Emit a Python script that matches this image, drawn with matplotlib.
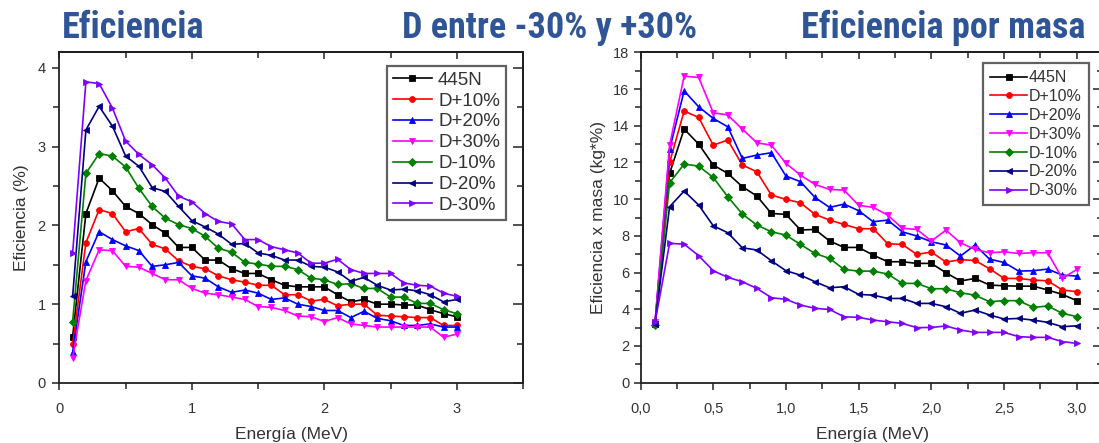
import matplotlib
matplotlib.use("Agg")
import matplotlib.pyplot as plt
from matplotlib import font_manager
from matplotlib.ticker import MultipleLocator, FixedLocator, FuncFormatter

# ---------------- data ----------------
energy = [0.1, 0.2, 0.3, 0.4, 0.5, 0.6, 0.7, 0.8, 0.9, 1.0,
          1.1, 1.2, 1.3, 1.4, 1.5, 1.6, 1.7, 1.8, 1.9, 2.0,
          2.1, 2.2, 2.3, 2.4, 2.5, 2.6, 2.7, 2.8, 2.9, 3.0]

series_labels = ["445N", "D+10%", "D+20%", "D+30%", "D-10%", "D-20%", "D-30%"]

eff_445N = [0.59, 2.15, 2.60, 2.44, 2.24, 2.15, 2.01, 1.90, 1.72, 1.72, 1.56, 1.56, 1.45, 1.39, 1.39,
            1.31, 1.24, 1.22, 1.22, 1.22, 1.12, 1.03, 1.06, 1.00, 1.00, 0.99, 0.99, 0.93, 0.88, 0.84]
eff_p10 = [0.49, 1.78, 2.20, 2.15, 1.92, 1.96, 1.76, 1.70, 1.55, 1.48, 1.45, 1.36, 1.31, 1.28, 1.24,
           1.24, 1.12, 1.12, 1.04, 1.06, 0.98, 1.00, 1.00, 0.86, 0.85, 0.84, 0.83, 0.83, 0.73, 0.73]
eff_p20 = [0.39, 1.54, 1.92, 1.82, 1.74, 1.68, 1.48, 1.50, 1.53, 1.36, 1.33, 1.22, 1.15, 1.18, 1.14,
           1.06, 1.08, 1.00, 0.97, 0.92, 0.92, 0.83, 0.91, 0.82, 0.79, 0.73, 0.73, 0.75, 0.71, 0.71]
eff_p30 = [0.32, 1.30, 1.69, 1.68, 1.48, 1.47, 1.39, 1.31, 1.31, 1.20, 1.14, 1.12, 1.09, 1.06, 0.97,
           0.96, 0.92, 0.85, 0.84, 0.78, 0.83, 0.75, 0.73, 0.71, 0.71, 0.71, 0.71, 0.71, 0.58, 0.62]
eff_m10 = [0.78, 2.66, 2.91, 2.88, 2.74, 2.47, 2.24, 2.09, 2.01, 1.96, 1.86, 1.71, 1.66, 1.53, 1.51,
           1.48, 1.48, 1.44, 1.33, 1.31, 1.25, 1.26, 1.20, 1.20, 1.09, 1.09, 1.01, 1.01, 0.93, 0.88]
eff_m20 = [1.10, 3.21, 3.51, 3.26, 2.88, 2.75, 2.48, 2.43, 2.24, 2.06, 1.98, 1.89, 1.76, 1.77, 1.65,
           1.62, 1.56, 1.56, 1.48, 1.47, 1.41, 1.29, 1.34, 1.24, 1.18, 1.19, 1.17, 1.12, 1.03, 1.06]
eff_m30 = [1.65, 3.82, 3.80, 3.49, 3.07, 2.90, 2.77, 2.60, 2.37, 2.30, 2.15, 2.05, 2.02, 1.82, 1.82,
           1.73, 1.69, 1.65, 1.52, 1.52, 1.57, 1.44, 1.39, 1.39, 1.39, 1.27, 1.24, 1.23, 1.14, 1.10]

mass_445N = [3.20, 11.40, 13.82, 13.00, 11.86, 11.40, 10.68, 10.17, 9.22, 9.17, 8.32, 8.35, 7.72, 7.37, 7.37,
             6.95, 6.59, 6.59, 6.50, 6.50, 5.99, 5.54, 5.68, 5.32, 5.28, 5.26, 5.26, 5.05, 4.81, 4.47]
mass_p10 = [3.20, 12.00, 14.80, 14.45, 12.94, 13.22, 11.86, 11.49, 10.22, 9.99, 9.80, 9.17, 8.86, 8.62, 8.39,
            8.39, 7.57, 7.53, 6.99, 7.12, 6.57, 6.70, 6.66, 6.21, 5.68, 5.68, 5.59, 5.55, 5.05, 4.96]
mass_p20 = [3.25, 12.71, 15.90, 15.03, 14.40, 13.94, 12.22, 12.40, 12.53, 11.26, 10.95, 10.09, 9.55, 9.73, 9.37,
            8.77, 8.86, 8.22, 7.99, 7.68, 7.50, 6.90, 7.50, 6.73, 6.55, 6.08, 6.10, 6.19, 5.86, 5.81]
mass_p30 = [3.30, 12.94, 16.70, 16.63, 14.71, 14.58, 13.82, 13.07, 12.94, 11.95, 11.31, 10.80, 10.53, 10.49, 9.66,
            9.55, 9.13, 8.41, 8.35, 7.72, 8.31, 7.62, 7.26, 7.08, 7.13, 7.04, 7.08, 7.08, 5.68, 6.17]
mass_m10 = [3.15, 10.89, 11.91, 11.80, 11.18, 10.13, 9.19, 8.59, 8.22, 8.04, 7.53, 7.04, 6.77, 6.17, 6.08,
            6.08, 5.92, 5.41, 5.41, 5.12, 5.12, 4.90, 4.77, 4.41, 4.47, 4.47, 4.10, 4.18, 3.78, 3.60]
mass_m20 = [3.20, 9.59, 10.44, 9.68, 8.55, 8.17, 7.35, 7.23, 6.64, 6.10, 5.86, 5.50, 5.17, 5.23, 4.81,
            4.77, 4.59, 4.59, 4.32, 4.32, 4.14, 3.78, 3.96, 3.69, 3.47, 3.50, 3.41, 3.29, 3.05, 3.10]
mass_m30 = [3.30, 7.59, 7.55, 6.92, 6.10, 5.74, 5.50, 5.14, 4.63, 4.54, 4.23, 4.05, 3.99, 3.59, 3.56,
            3.41, 3.32, 3.23, 3.00, 3.01, 3.09, 2.87, 2.74, 2.74, 2.74, 2.51, 2.47, 2.47, 2.24, 2.14]

titles = ["Eficiencia", "D entre -30% y +30%", "Eficiencia por masa"]
xlabel = "Energía (MeV)"
ylabel_left = "Eficiencia (%)"
ylabel_right = "Eficiencia x masa (kg*%)"

# ---------------- style ----------------
colors = ["#000000", "#FF0000", "#0000FF", "#FF00FF", "#008000", "#000080", "#8000FF"]
markers = ["s", "o", "^", "v", "D", "<", ">"]
msizes = [4.2, 4.2, 4.6, 4.6, 3.6, 4.6, 4.6]

plt.rcParams["font.family"] = ["Liberation Sans", "DejaVu Sans"]
text_col = "#333333"


def pick_title_font():
    for fam in ["Liberation Sans Narrow", "Arial Narrow", "Roboto Condensed"]:
        try:
            font_manager.findfont(font_manager.FontProperties(family=fam, weight="bold"),
                                  fallback_to_default=False)
            return fam, 26
        except Exception:
            pass
    return "Liberation Sans", 21


title_family, title_size = pick_title_font()

fig = plt.figure(figsize=(10.99, 4.43), dpi=100)
fig.patch.set_facecolor("white")

axL = fig.add_axes([59.4 / 1099, 1 - 383 / 443, (523 - 59.4) / 1099, (383 - 52) / 443])
axR = fig.add_axes([640.5 / 1099, 1 - 382.7 / 443, (1103 - 640.5) / 1099, (382.7 - 52.3) / 443])

left_data = [eff_445N, eff_p10, eff_p20, eff_p30, eff_m10, eff_m20, eff_m30]
right_data = [mass_445N, mass_p10, mass_p20, mass_p30, mass_m10, mass_m20, mass_m30]

for ax, data in [(axL, left_data), (axR, right_data)]:
    for vals, lab, c, m, ms in zip(data, series_labels, colors, markers, msizes):
        ax.plot(energy, vals, color=c, marker=m, markersize=ms, linewidth=1.2,
                markeredgewidth=0.6, label=lab)
    for sp in ax.spines.values():
        sp.set_linewidth(1.3)
        sp.set_color("#222222")

# ----- left axes -----
axL.set_xlim(0, 3.5)
axL.set_ylim(0, 4.2)
axL.xaxis.set_major_locator(FixedLocator([0, 1, 2, 3]))
axL.xaxis.set_minor_locator(FixedLocator([0.5, 1.5, 2.5, 3.5]))
axL.yaxis.set_major_locator(MultipleLocator(1))
axL.yaxis.set_minor_locator(MultipleLocator(0.5))
axL.tick_params(axis="both", which="major", direction="out", length=5, width=1.1,
                labelsize=10.5, labelcolor=text_col, color="#222222")
axL.tick_params(axis="both", which="minor", direction="out", length=4, width=1.1, color="#222222")
axL.tick_params(axis="x", which="major", pad=9)
axL.tick_params(axis="y", which="major", pad=5)

# ----- right axes -----
axR.set_xlim(0, 3.18)
axR.set_ylim(0, 18)
axR.xaxis.set_major_locator(MultipleLocator(0.5))
axR.xaxis.set_minor_locator(MultipleLocator(0.25))
axR.yaxis.set_major_locator(MultipleLocator(2))
axR.yaxis.set_minor_locator(MultipleLocator(1))
axR.xaxis.set_major_formatter(FuncFormatter(lambda v, p: f"{v:.1f}".replace(".", ",")))
axR.tick_params(axis="both", which="major", direction="out", length=5, width=1.1,
                labelsize=10.5, labelcolor=text_col, color="#222222")
axR.tick_params(axis="both", which="minor", direction="out", length=4, width=1.1, color="#222222")
axR.tick_params(axis="x", which="major", pad=9)
axR.tick_params(axis="y", which="major", pad=3)

# mirrored inward ticks on top and right
for ax in (axL, axR):
    sx = ax.secondary_xaxis("top")
    sx.xaxis.set_major_locator(ax.xaxis.get_major_locator())
    sx.xaxis.set_minor_locator(ax.xaxis.get_minor_locator())
    sx.tick_params(which="major", direction="in", length=5, width=1.1, labeltop=False, color="#222222")
    sx.tick_params(which="minor", direction="in", length=4, width=1.1, color="#222222")
    sx.spines["top"].set_linewidth(1.3)
    sy = ax.secondary_yaxis("right")
    sy.yaxis.set_major_locator(ax.yaxis.get_major_locator())
    sy.yaxis.set_minor_locator(ax.yaxis.get_minor_locator())
    sy.tick_params(which="major", direction="in", length=7, width=1.1, labelright=False, color="#222222")
    sy.tick_params(which="minor", direction="in", length=4, width=1.1, color="#222222")
    sy.spines["right"].set_linewidth(1.3)

# axis labels
axL.set_xlabel(xlabel, fontsize=12.5, color=text_col, va="center")
axL.xaxis.set_label_coords(0.5, (383 - 434) / 331)
axL.set_ylabel(ylabel_left, fontsize=12.5, color=text_col, va="center")
axL.yaxis.set_label_coords((22 - 59.4) / 463.6, 0.5)

axR.set_xlabel(xlabel, fontsize=12.5, color=text_col, va="center")
axR.xaxis.set_label_coords((872 - 640.5) / 462.5, (382.7 - 435) / 330.4)
axR.set_ylabel(ylabel_right, fontsize=12.5, color=text_col, va="center")
axR.yaxis.set_label_coords((598 - 640.5) / 462.5, 0.5)

# legends
legL = axL.legend(loc="upper left", bbox_to_anchor=((387 - 59.4) / 463.6, (383 - 66) / 331),
                  fontsize=13.5, frameon=True, fancybox=False, handlelength=2.1,
                  handletextpad=0.32, labelspacing=0.2, borderpad=0.3, borderaxespad=0)
legR = axR.legend(loc="upper left", bbox_to_anchor=((983 - 640.5) / 462.5, (382.7 - 63) / 330.4),
                  fontsize=11.5, frameon=True, fancybox=False, handlelength=2.3,
                  handletextpad=0.1, labelspacing=0.24, borderpad=0.45, borderaxespad=0)
for lg in (legL, legR):
    fr = lg.get_frame()
    fr.set_edgecolor("#3a3a3a")
    fr.set_linewidth(1.6)
    for t in lg.get_texts():
        t.set_color(text_col)

# titles
title_col = "#2F5597"
ty = 1 - 28 / 443
fig.text(62 / 1099, ty, titles[0], fontsize=title_size, fontweight="bold",
         family=title_family, color=title_col, ha="left", va="center")
fig.text(550 / 1099, ty, titles[1], fontsize=title_size, fontweight="bold",
         family=title_family, color=title_col, ha="center", va="center")
fig.text(1085 / 1099, ty, titles[2], fontsize=title_size, fontweight="bold",
         family=title_family, color=title_col, ha="right", va="center")

fig.savefig("out.png", dpi=100, facecolor="white")
